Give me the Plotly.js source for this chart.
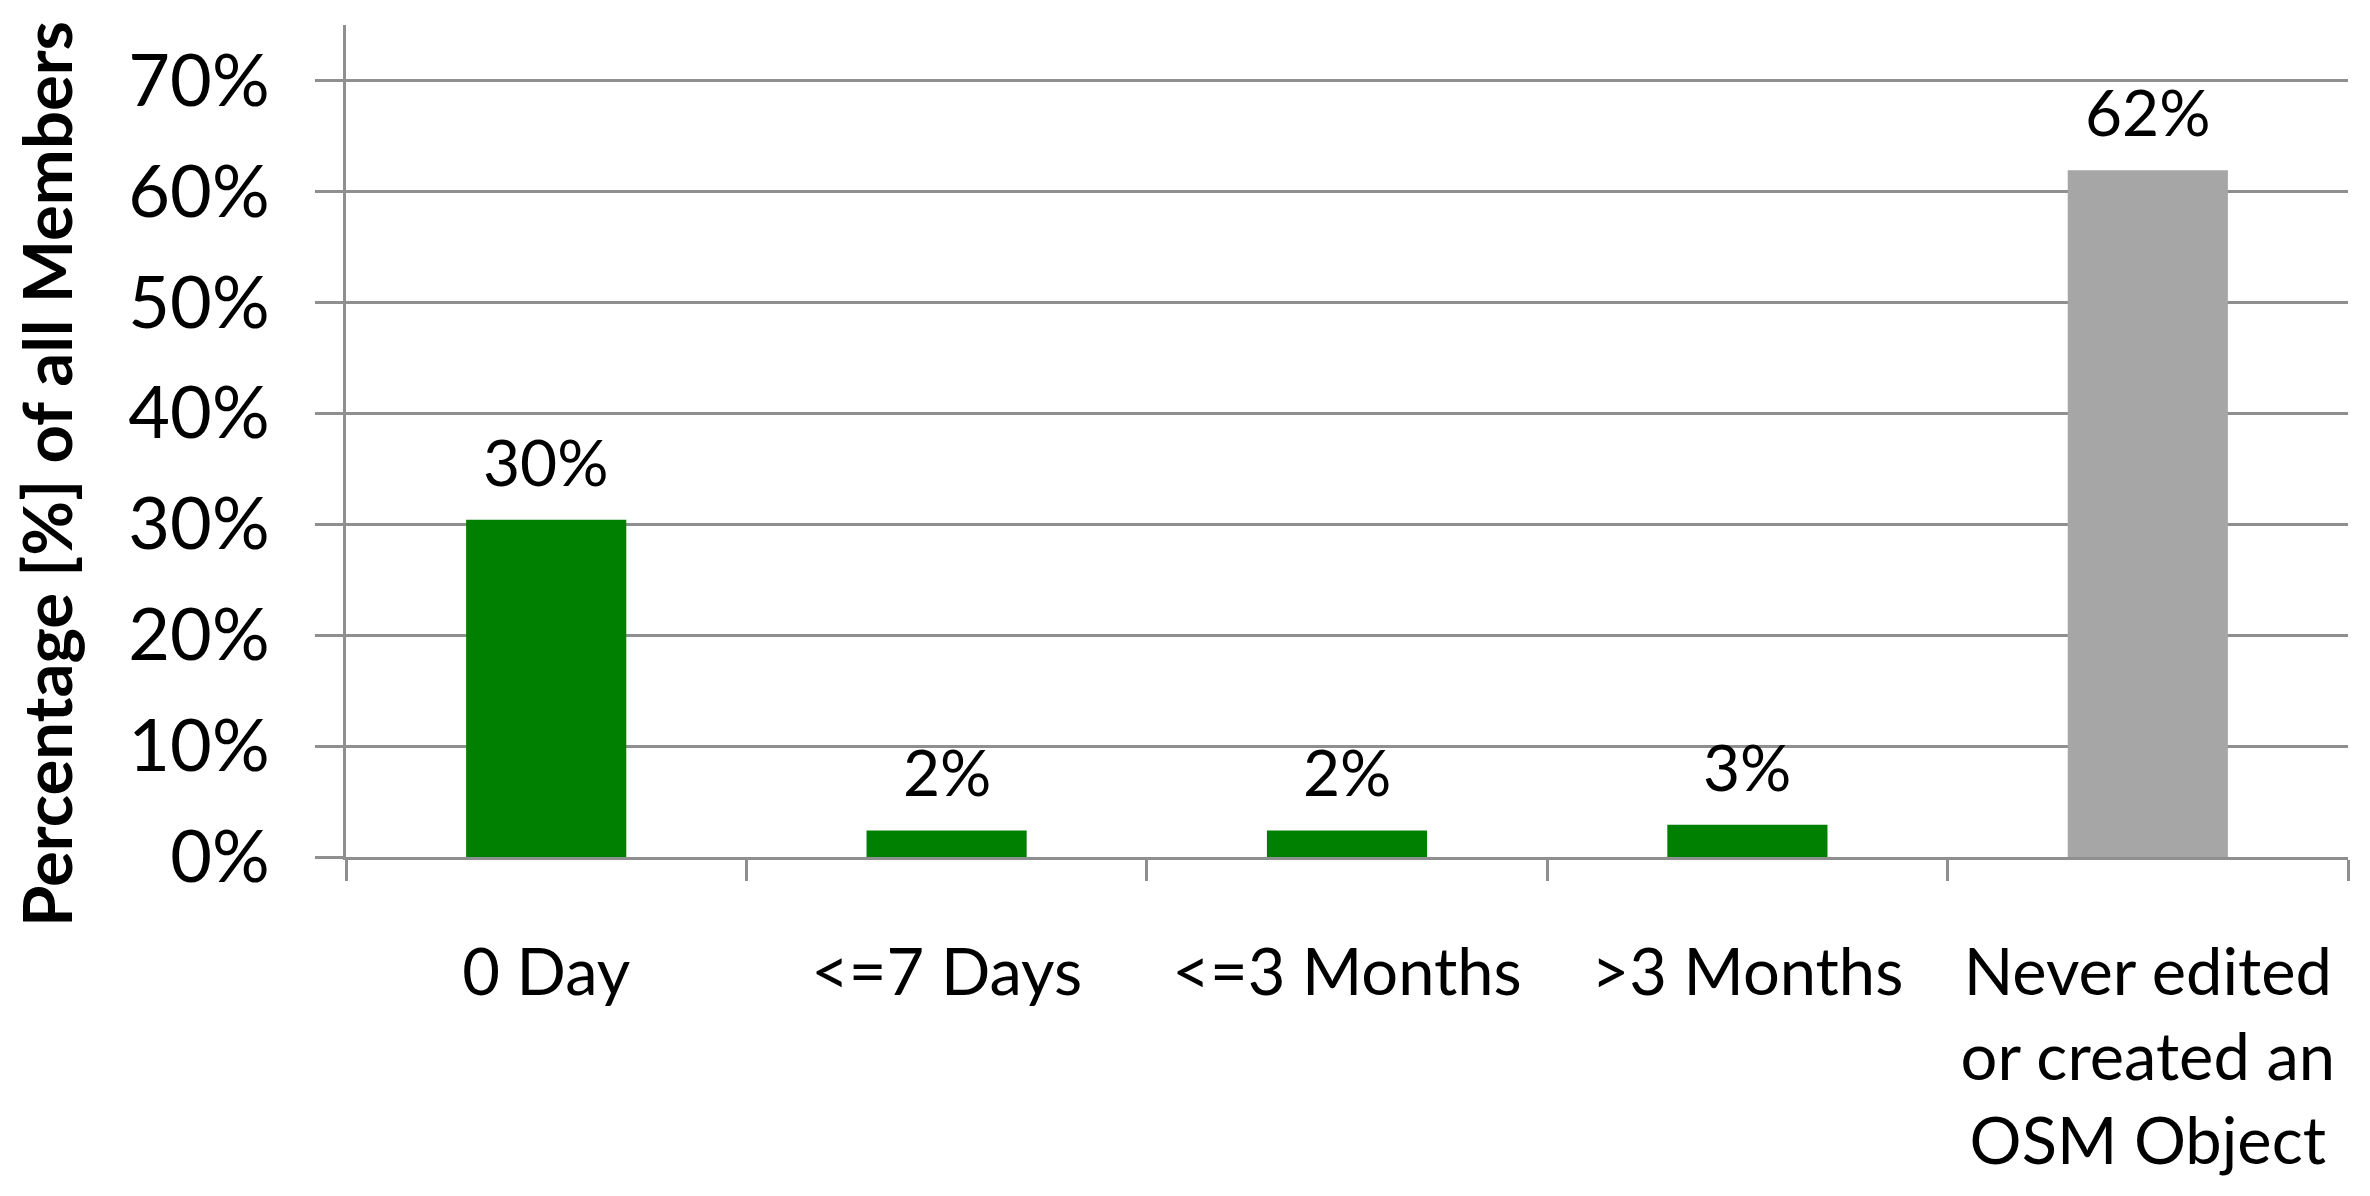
<!DOCTYPE html>
<html>
<head>
<meta charset="utf-8">
<script src="https://cdn.plot.ly/plotly-3.0.1.min.js"></script>
<style>
  html, body { margin: 0; padding: 0; background: #ffffff; }
  #chart { width: 2370px; height: 1196px; }
</style>
</head>
<body>
<div id="chart"></div>
<script>
// ---- data ----
const categories = [
  '0 Day',
  '<=7 Days',
  '<=3 Months',
  '>3 Months',
  'Never edited<br>or created an<br>OSM Object'
];
const shares = [0.304, 0.024, 0.024, 0.029, 0.619];
const yTickValues = [0, 0.1, 0.2, 0.3, 0.4, 0.5, 0.6, 0.7];
const yTitle = 'Percentage [%] of all Members';

// ---- styles ----
const GREEN = '#008000';
const GREY = '#a6a6a6';
const LINE = '#8f8f8f';
const FONT = 'Lato, "Open Sans", sans-serif';
const barColors = categories.map((c, i) => (i === categories.length - 1 ? GREY : GREEN));

const trace = {
  type: 'bar',
  x: categories,
  y: shares,
  marker: { color: barColors, line: { width: 0 } },
  hoverinfo: 'x+y'
};

const labelAnnotations = categories.map((c, i) => ({
  x: c,
  y: shares[i],
  xref: 'x',
  yref: 'y',
  text: Math.round(shares[i] * 100) + '%',
  showarrow: false,
  xanchor: 'center',
  yanchor: 'bottom',
  yshift: 18,
  font: { family: FONT, size: 64, color: '#000000' }
}));

const titleAnnotation = {
  xref: 'paper',
  yref: 'paper',
  x: -0.1495,
  y: 0.46,
  xanchor: 'center',
  yanchor: 'middle',
  text: '<b>' + yTitle + '</b>',
  textangle: -90,
  showarrow: false,
  font: { family: FONT, size: 67, color: '#000000' }
};

const layout = {
  width: 2370,
  height: 1196,
  margin: { l: 346, r: 22, t: 25, b: 339, pad: 0 },
  paper_bgcolor: '#ffffff',
  plot_bgcolor: '#ffffff',
  showlegend: false,
  bargap: 0.6,
  font: { family: FONT, color: '#000000' },
  xaxis: {
    type: 'category',
    automargin: false,
    showgrid: false,
    zeroline: false,
    showline: true,
    linecolor: LINE,
    linewidth: 3,
    ticks: 'outside',
    tickson: 'boundaries',
    ticklen: 21,
    tickwidth: 3,
    tickcolor: LINE,
    ticklabelstandoff: 57,
    tickfont: { family: FONT, size: 65, color: '#000000' }
  },
  yaxis: {
    range: [0, 0.75],
    automargin: false,
    tickmode: 'array',
    tickvals: yTickValues,
    tickformat: '.0%',
    showgrid: true,
    gridcolor: LINE,
    gridwidth: 3,
    zeroline: false,
    showline: true,
    linecolor: LINE,
    linewidth: 3,
    ticks: 'outside',
    ticklen: 28,
    tickwidth: 3,
    tickcolor: LINE,
    ticklabelstandoff: 31,
    tickfont: { family: FONT, size: 72, color: '#000000' }
  },
  annotations: labelAnnotations.concat([titleAnnotation])
};

Plotly.newPlot('chart', [trace], layout, { displayModeBar: false, staticPlot: true });
</script>
</body>
</html>
